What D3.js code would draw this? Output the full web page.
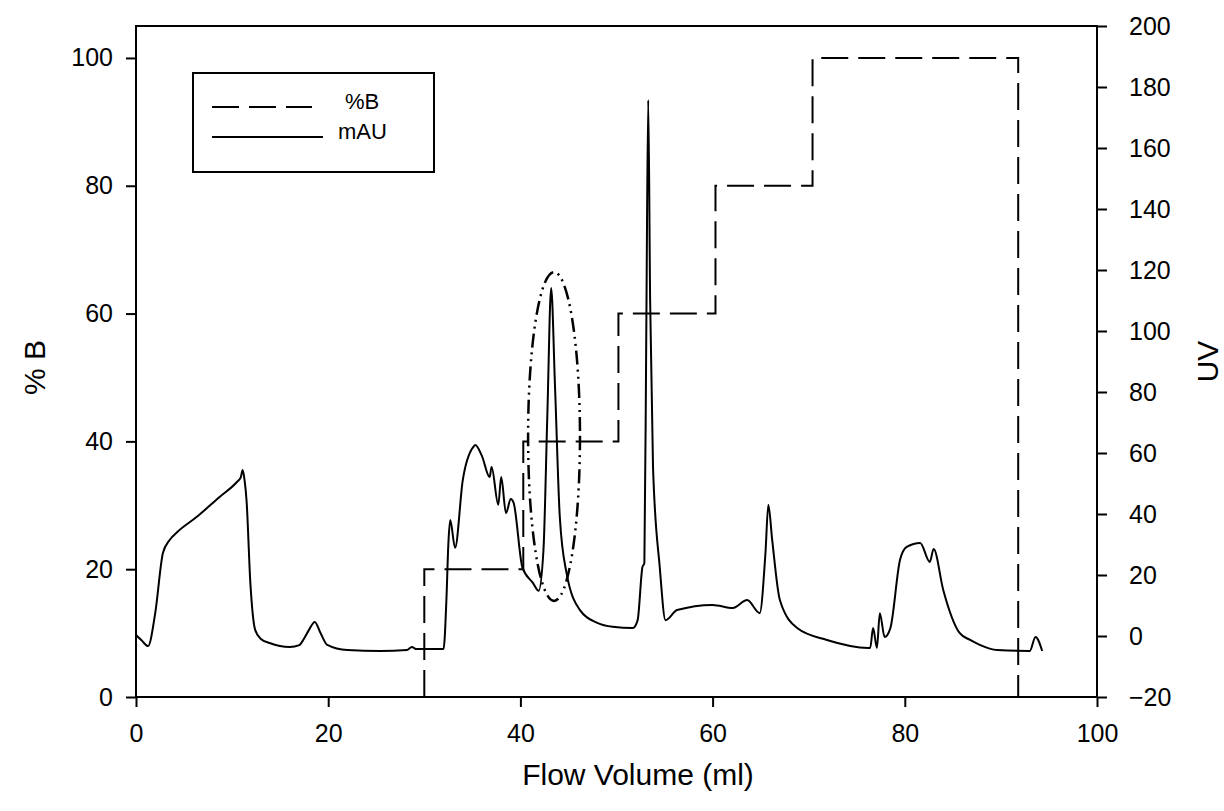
<!DOCTYPE html>
<html>
<head>
<meta charset="utf-8">
<script src="https://cdn.jsdelivr.net/npm/d3@7"></script>
<style>
  body { margin: 0; background: #fff; }
  svg { font-family: "Liberation Sans", Arial, sans-serif; }
</style>
</head>
<body>
<script>
// chromatogram: UV trace (right axis) and %B gradient steps (left axis)
var uvFlow = [0, 0.6, 1.25, 2.0, 2.8, 3.5, 4.3, 6.3, 8.7, 10.5, 10.9, 11.1, 11.3, 11.5, 11.9, 12.4, 13.0, 13.9,
  16, 17.0, 17.4, 18.0, 18.6, 19.2, 19.9, 22, 25.4, 28.2, 28.7, 29.2, 32, 32.3, 32.5, 32.7, 33.2, 34, 35.1, 35.3,
  36.0, 36.8, 37.0, 37.7, 38.0, 38.5, 39.0, 39.3, 40.2, 41.3, 41.9, 42.4, 42.8, 43.2, 43.6, 44.1, 44.8, 46.2,
  48.0, 49.6, 51.7, 52.2, 52.7, 52.9, 53.1, 53.3, 53.5, 53.8, 54.5, 55.1, 56.3, 60.0, 62.1, 63.6, 64.9, 65.5,
  65.8, 66.2, 67, 68.8, 71.9, 76.2, 76.4, 76.7, 77.1, 77.4, 77.9, 78.5, 79.5, 80.2, 81.6, 82.6, 83.0, 84.0,
  85.7, 86.8, 87.8, 89.6, 93.0, 93.6, 94.3];
var uvMAU = [0.3, -1.5, -3.3, 7.5, 27.2, 31.5, 34.1, 39, 45.6, 50.5, 52, 54.4, 51, 44.6, 17.4, 2, -1, -2.3,
  -3.6, -3, -1.3, 2, 4.6, 1, -2.9, -4.6, -4.9, -4.6, -3.6, -4.3, -4.3, 11.8, 30, 38, 28.9, 51, 62, 62.6,
  59, 52.1, 55.4, 43, 52.1, 40.3, 44.9, 43.6, 22.6, 17.4, 14.8, 28.2, 72, 114.1, 82, 39, 20.7, 8.5,
  4.3, 3, 2.6, 5.2, 22.6, 23.9, 100, 175.7, 110, 55.4, 22.6, 5.2, 8.5, 10.2, 9.2, 11.8, 7.5, 27.2,
  43, 31.5, 11.8, 2.6, -1.3, -3.9, -3.9, 2.6, -3.9, 7.5, -0.3, 2.6, 24.9, 29.2, 30.5, 24.3, 28.5, 15.1,
  1, -1.3, -2.9, -4.6, -4.9, -0.3, -4.9];

var stepFlow = [30, 30, 40.3, 40.3, 50.2, 50.2, 60.3, 60.3, 70.4, 70.4, 91.8, 91.8];
var stepB = [0, 20, 20, 40, 40, 60, 60, 80, 80, 100, 100, 0];

var xTicks = [0, 20, 40, 60, 80, 100];
var leftTicks = [0, 20, 40, 60, 80, 100];
var rightTicks = [-20, 0, 20, 40, 60, 80, 100, 120, 140, 160, 180, 200];

// highlighted peak: centre flow, centre UV, half width (ml), half height (mAU)
var ringFlow = [43.5, 2.7];
var ringUV = [65.4, 53.9];

var legendNames = ["%B", "mAU"];

var W = 1224, H = 811;
var m = { left: 136, right: 127, top: 26, bottom: 114 };

var svg = d3.select("body").append("svg")
  .attr("width", W)
  .attr("height", H);

var x = d3.scaleLinear().domain([0, 100]).range([m.left, W - m.right]);
var yL = d3.scaleLinear().domain([0, 105]).range([H - m.bottom, m.top]);
var yR = d3.scaleLinear().domain([-20, 200]).range([H - m.bottom, m.top]);

var uv = uvFlow.map(function(f, i) { return [f, uvMAU[i]]; });
var steps = stepFlow.map(function(f, i) { return [f, stepB[i]]; });

// gradient steps
svg.append("path")
  .attr("d", d3.line().x(function(d) { return x(d[0]); }).y(function(d) { return yL(d[1]); })(steps))
  .attr("fill", "none")
  .attr("stroke", "#000")
  .attr("stroke-width", 2)
  .attr("stroke-dasharray", "27,10");

// UV trace
svg.append("path")
  .attr("d", d3.line().curve(d3.curveMonotoneX)
    .x(function(d) { return x(d[0]); }).y(function(d) { return yR(d[1]); })(uv))
  .attr("fill", "none")
  .attr("stroke", "#000")
  .attr("stroke-width", 2)
  .attr("stroke-linejoin", "round");

// ring round the peak of interest
svg.append("ellipse")
  .attr("cx", x(ringFlow[0]))
  .attr("cy", yR(ringUV[0]))
  .attr("rx", x(ringFlow[0] + ringFlow[1]) - x(ringFlow[0]))
  .attr("ry", yR(ringUV[0]) - yR(ringUV[0] + ringUV[1]))
  .attr("fill", "none")
  .attr("stroke", "#000")
  .attr("stroke-width", 2.5)
  .attr("stroke-dasharray", "14,5,2,5,2,5");

// frame
svg.append("rect")
  .attr("x", m.left)
  .attr("y", m.top)
  .attr("width", W - m.right - m.left)
  .attr("height", H - m.bottom - m.top)
  .attr("fill", "none")
  .attr("stroke", "#000")
  .attr("stroke-width", 2);

function styleAxis(g) {
  g.select(".domain").remove();
  g.selectAll(".tick line").attr("stroke", "#000").attr("stroke-width", 2);
  g.selectAll(".tick text").attr("fill", "#000").style("font-size", "25px")
    .style("font-family", "'Liberation Sans', Arial, sans-serif");
}

svg.append("g")
  .attr("transform", "translate(0," + (H - m.bottom) + ")")
  .call(d3.axisBottom(x).tickValues(xTicks).tickSize(10).tickPadding(17))
  .call(styleAxis);

svg.append("g")
  .attr("transform", "translate(" + m.left + ",0)")
  .call(d3.axisLeft(yL).tickValues(leftTicks).tickSize(10).tickPadding(13))
  .call(styleAxis);

svg.append("g")
  .attr("transform", "translate(" + (W - m.right) + ",0)")
  .call(d3.axisRight(yR).tickValues(rightTicks).tickSize(10).tickPadding(22))
  .call(styleAxis);

// axis titles
svg.append("text")
  .attr("x", 638)
  .attr("y", 785)
  .attr("text-anchor", "middle")
  .style("font-size", "30px")
  .text("Flow Volume (ml)");

svg.append("text")
  .attr("transform", "translate(45," + ((m.top + H - m.bottom) / 2 + 6) + ") rotate(-90)")
  .attr("text-anchor", "middle")
  .style("font-size", "30px")
  .text("% B");

svg.append("text")
  .attr("transform", "translate(1218," + ((m.top + H - m.bottom) / 2) + ") rotate(-90)")
  .attr("text-anchor", "middle")
  .style("font-size", "30px")
  .text("UV");

// legend
var lg = svg.append("g");
lg.append("rect")
  .attr("x", 193).attr("y", 73).attr("width", 241).attr("height", 99)
  .attr("fill", "#fff").attr("stroke", "#000").attr("stroke-width", 2);

lg.selectAll("line").data(legendNames).enter().append("line")
  .attr("x1", 212)
  .attr("x2", function(d, i) { return i === 0 ? 312 : 323; })
  .attr("y1", function(d, i) { return 107 + i * 30; })
  .attr("y2", function(d, i) { return 107 + i * 30; })
  .attr("stroke", "#000")
  .attr("stroke-width", 2)
  .attr("stroke-dasharray", function(d, i) { return i === 0 ? "27,10" : null; });

lg.selectAll("text").data(legendNames).enter().append("text")
  .attr("x", function(d, i) { return i === 0 ? 345 : 338; })
  .attr("y", function(d, i) { return 101 + i * 30; })
  .attr("dy", "0.35em")
  .style("font-size", "22px")
  .text(function(d) { return d; });
</script>
</body>
</html>
